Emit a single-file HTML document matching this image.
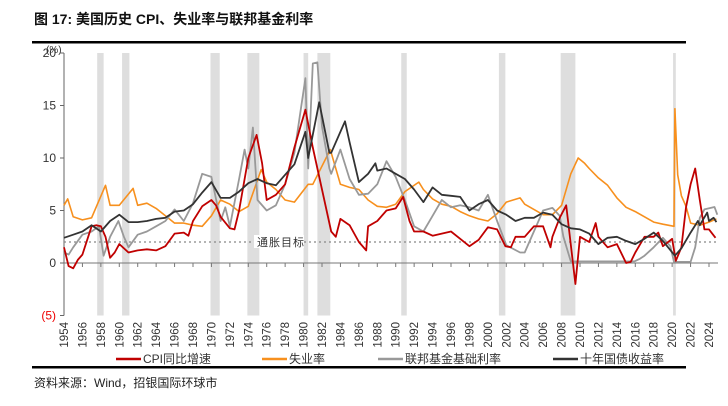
<!DOCTYPE html>
<html><head><meta charset="utf-8"><style>
body{margin:0;background:#fff;width:728px;height:401px;overflow:hidden;font-family:"Liberation Sans","Noto Sans CJK SC",sans-serif}
</style></head><body>
<svg id="c" width="728" height="401" xmlns="http://www.w3.org/2000/svg" style="font-family:'Liberation Sans','Noto Sans CJK SC',sans-serif">
<text x="34" y="24" font-size="14" font-weight="bold" fill="#111">图 17: 美国历史 CPI、失业率与联邦基金利率</text>
<rect x="32" y="41" width="654" height="2.5" fill="#000"/>
<g id="bands"></g>
<g id="axes"></g>
<g id="series"></g>
<g id="legend"></g>
<rect x="32" y="366" width="654" height="2.5" fill="#000"/>
<text x="34" y="387" font-size="12" fill="#222">资料来源：Wind，招银国际环球市</text>
</svg>
<script>
const recessions=[[1957.6,1958.3],[1960.3,1961.1],[1969.9,1970.9],[1973.9,1975.2],[1980.0,1980.5],[1981.5,1982.9],[1990.6,1991.2],[2001.2,2001.9],[2007.9,2009.5],[2020.1,2020.4]];
const yTicks=[20,15,10,5,0,-5];
const yTickLabels=["20","15","10","5","0","(5)"];
const xTickYears=[1954,1956,1958,1960,1962,1964,1966,1968,1970,1972,1974,1976,1978,1980,1982,1984,1986,1988,1990,1992,1994,1996,1998,2000,2002,2004,2006,2008,2010,2012,2014,2016,2018,2020,2022,2024];
const targetValue=2;
const cpiYears=[1954,1954.5,1955,1955.5,1956,1957,1957.5,1958,1958.5,1959,1959.5,1960,1961,1962,1963,1964,1965,1966,1967,1967.5,1968,1969,1970,1970.5,1971,1972,1972.5,1973,1974,1974.9,1975.5,1976,1977,1978,1979,1980.2,1981,1982,1983,1983.5,1984,1985,1986,1986.8,1987,1988,1989,1990,1990.8,1991.5,1992,1993,1994,1995,1996,1997,1998,1999,2000,2001,2001.9,2002.5,2003,2004,2005,2006,2006.8,2007,2007.8,2008.5,2009.5,2010,2011,2011.7,2012,2013,2014,2015,2015.5,2016,2017,2018,2018.5,2019,2020,2020.4,2021,2021.5,2022,2022.5,2023,2023.5,2024,2024.7];
const cpiValues=[1.5,-0.3,-0.5,0.3,0.8,3.5,3.6,3.5,2.5,0.5,1.0,1.8,1.0,1.2,1.3,1.2,1.6,2.8,2.9,2.6,4.0,5.4,6.0,5.5,4.4,3.3,3.2,5.0,10.0,12.2,9.5,6.0,6.5,7.5,11.0,14.6,11.0,7.0,3.0,2.5,4.2,3.6,2.0,1.2,3.5,4.0,5.0,5.2,6.3,4.0,3.0,3.0,2.6,2.8,3.0,2.3,1.6,2.2,3.4,3.2,1.6,1.5,2.5,2.5,3.5,3.5,1.5,2.5,4.3,5.5,-2.0,2.5,2.0,3.8,2.5,1.5,1.8,0,0.1,1.0,2.5,2.5,2.9,1.6,2.3,0.2,1.5,5.3,7.5,9.0,6.0,3.2,3.2,2.4];
const unempYears=[1954,1954.4,1955,1956,1957,1958.5,1959,1960,1961.5,1962,1963,1964,1965,1966,1967,1968,1969,1970,1971,1972,1973,1974,1975.4,1976,1977,1978,1979,1980.5,1981,1982.9,1984,1985,1986,1987,1988,1989,1990,1991,1992.5,1993,1994,1995,1996,1997,1998,1999,2000,2001,2002,2003.5,2004,2005,2006,2007,2008,2009,2009.8,2010.5,2011,2012,2013,2014,2015,2016,2017,2018,2019,2020.2,2020.3,2020.6,2021,2021.5,2022,2023,2024,2024.8];
const unempValues=[5.5,6.1,4.4,4.1,4.3,7.4,5.5,5.5,7.1,5.5,5.7,5.2,4.5,3.8,3.8,3.6,3.5,4.5,6.0,5.6,4.9,5.4,8.9,7.7,7.0,6.0,5.8,7.5,7.5,10.8,7.5,7.2,7.0,6.0,5.4,5.3,5.6,6.8,7.7,7.0,6.1,5.6,5.4,4.9,4.5,4.2,4.0,4.7,5.8,6.2,5.6,5.1,4.6,4.6,5.5,8.5,10.0,9.5,9.0,8.1,7.4,6.2,5.3,4.9,4.4,3.9,3.7,3.5,14.7,8.4,6.4,5.4,3.8,3.6,3.9,4.2];
const fedYears=[1954,1954.5,1955,1956,1957,1957.8,1958.3,1959,1959.9,1960.5,1961,1962,1963,1964,1965,1966,1967,1968,1969,1970,1971,1971.5,1972,1973,1973.6,1974,1974.5,1975,1976,1977,1978,1979,1980.2,1980.5,1981,1981.5,1982,1982.8,1983,1984,1985,1986,1987,1988,1989,1990,1991,1992,1993,1994,1995,1996,1997,1998,1999,2000,2001,2002,2003.5,2004,2005,2006,2007,2007.8,2008.2,2009,2010,2015.9,2016.5,2017,2018,2019,2019.8,2020.2,2022,2022.5,2023,2023.5,2024.6,2024.9];
const fedValues=[1.0,0.8,1.5,2.7,3.0,3.5,0.7,2.5,4.0,2.5,1.5,2.7,3.0,3.5,4.0,5.1,4.0,5.7,8.5,8.2,4.0,5.3,3.5,8.0,10.8,9.0,12.9,6.0,5.0,5.5,7.5,10.5,17.6,9.0,19.0,19.1,13.0,9.0,8.5,10.8,8.0,6.5,6.6,7.5,9.7,8.2,6.0,3.5,3.0,4.5,6.0,5.3,5.5,5.3,5.0,6.5,4.0,1.7,1.0,1.0,3.0,5.0,5.25,4.5,2.5,0.15,0.15,0.15,0.4,0.7,1.5,2.4,1.6,0.1,0.1,1.5,4.3,5.1,5.33,4.6];
const tenYears=[1954,1955,1956,1957,1958,1959,1960,1961,1962,1963,1964,1965,1966,1967,1968,1969,1970,1971,1972,1973,1974,1975,1976,1977,1978,1979,1980.2,1980.5,1981.7,1982,1982.8,1983,1984.5,1985,1986,1987,1987.8,1988,1989,1990,1991,1992,1993,1994,1995,1996,1997,1998,1999,2000,2001,2002,2003,2004,2005,2006,2007,2008,2009,2010,2011,2012,2013,2014,2015,2016,2017,2018,2019,2020.3,2021,2022,2022.8,2023,2023.8,2024,2024.5,2024.8];
const tenValues=[2.4,2.7,3.0,3.6,3.0,4.0,4.6,3.9,3.9,4.0,4.2,4.3,4.9,5.0,5.6,6.7,7.7,6.2,6.2,6.8,7.6,8.0,7.6,7.4,8.4,9.4,12.5,10.0,15.3,14.0,10.5,10.5,13.5,11.5,7.7,8.5,9.5,8.8,9.0,8.5,8.0,7.0,5.8,7.2,6.5,6.4,6.3,5.0,5.6,6.0,5.0,4.6,4.0,4.3,4.3,4.8,4.6,3.7,3.3,3.2,2.8,1.8,2.4,2.5,2.1,1.8,2.3,2.9,2.1,0.7,1.4,2.9,4.0,3.6,4.8,4.0,4.3,3.9];

const NS="http://www.w3.org/2000/svg";
const X0=64,X1=709,Y0=263,PPU=10.5;
function xs(y){return X0+(y-1954)*(X1-X0)/70;}
function ys(v){return Y0-v*PPU;}
function mk(tag,attrs,parent){const e=document.createElementNS(NS,tag);for(const k in attrs)e.setAttribute(k,attrs[k]);parent.appendChild(e);return e;}
const bands=document.getElementById('bands'),axes=document.getElementById('axes'),ser=document.getElementById('series'),leg=document.getElementById('legend');
recessions.forEach(r=>{
  const e=mk('rect',{x:xs(r[0]),y:ys(20),width:Math.max(2,xs(r[1])-xs(r[0])),height:ys(-5)-ys(20),fill:'#dedede'},bands);
  
  
});
let a=mk('line',{x1:X0,x2:X0,y1:ys(20),y2:ys(-5),stroke:'#666','stroke-width':1},axes);


let z=mk('line',{x1:X0,x2:718,y1:Y0,y2:Y0,stroke:'#777','stroke-width':1},axes);


yTicks.forEach((v,i)=>{
  mk('line',{x1:X0-4,x2:X0,y1:ys(v),y2:ys(v),stroke:'#666'},axes);
  const t=mk('text',{x:X0-8,y:ys(v)+4,'font-size':12,'text-anchor':'end',fill:v<0?'#e00':'#333'},axes);
  t.textContent=yTickLabels[i];
  
  
});
const unit=mk('text',{x:46,y:53,'font-size':10,fill:'#333'},axes);unit.textContent='(%)';


xTickYears.forEach(yr=>{
  mk('line',{x1:xs(yr),x2:xs(yr),y1:Y0,y2:Y0+4,stroke:'#777'},axes);
  const t=mk('text',{x:0,y:0,'font-size':11.5,'text-anchor':'end',fill:'#333',transform:`translate(${xs(yr)+4},322) rotate(-90)`},axes);
  t.textContent=yr;
  
  
});
const tl=mk('line',{x1:X0,x2:718,y1:ys(targetValue),y2:ys(targetValue),stroke:'#888','stroke-width':1.3,'stroke-dasharray':'2,3'},axes);


mk('rect',{x:254,y:ys(targetValue)-7,width:50,height:13,fill:'#fff'},axes);
const tt=mk('text',{x:257,y:ys(targetValue)+4,'font-size':11,fill:'#333','letter-spacing':'1'},axes);tt.textContent='通胀目标';


function line(yrs,vals,color,w,name){
  const d=yrs.map((y,i)=>(i?'L':'M')+xs(y).toFixed(1)+','+ys(vals[i]).toFixed(1)).join('');
  const p=mk('path',{d:d,fill:'none',stroke:color,'stroke-width':w,'stroke-linejoin':'round'},ser);
  
  
}
line(unempYears,unempValues,'#f7901e',1.6,'unemployment-line');
line(fedYears,fedValues,'#999',1.8,'fed-funds-line');
line(cpiYears,cpiValues,'#c00000',1.8,'cpi-line');
line(tenYears,tenValues,'#333',1.8,'ten-year-yield-line');
const legItems=[['CPI同比增速','#c00000',116],['失业率','#f7901e',262],['联邦基金基础利率','#999',378],['十年国债收益率','#333',553]];
legItems.forEach(it=>{
  const g=mk('g',{},leg);
  
  
  mk('line',{x1:it[2],x2:it[2]+25,y1:359,y2:359,stroke:it[1],'stroke-width':2.5},g);
  const t=mk('text',{x:it[2]+27,y:363,'font-size':12,fill:'#333'},g);t.textContent=it[0];
});
</script>
</body></html>
